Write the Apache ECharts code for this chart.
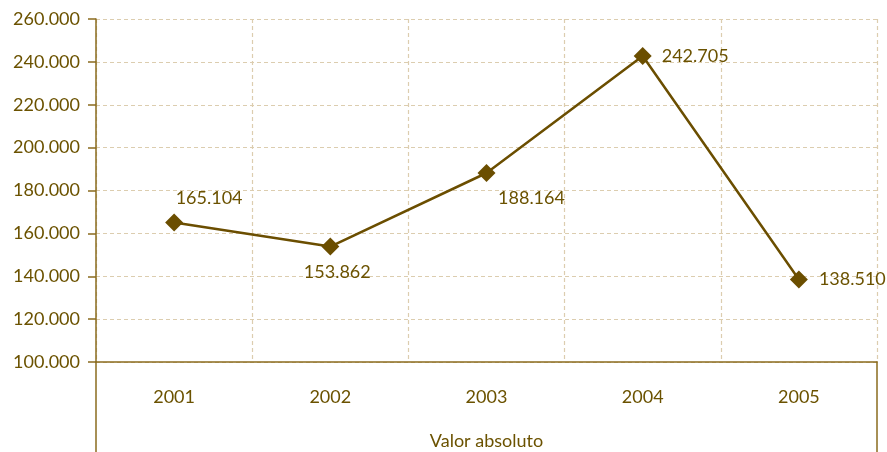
<!DOCTYPE html>
<html>
<head>
<meta charset="utf-8">
<script src="https://cdn.jsdelivr.net/npm/echarts@6/dist/echarts.min.js"></script>
<style>
  html, body { margin: 0; padding: 0; background: #ffffff; }
  #chart { width: 887px; height: 452px; }
</style>
</head>
<body>
<div id="chart"></div>
<script>
// Yearly values
const years = ['2001', '2002', '2003', '2004', '2005'];
const values = [165104, 153862, 188164, 242705, 138510];
const axisTitle = 'Valor absoluto';

// Label placement per point
const labelPlacement = [
  { position: 'top', offset: [35, -1] },
  { position: 'bottom', offset: [7, 3] },
  { position: 'bottom', offset: [45, 2] },
  { position: 'right', offset: [5, 0] },
  { position: 'right', offset: [6, 0] }
];

const textColor = '#6b5200';
const lineColor = '#6b4e00';
const axisColor = '#8a6b1e';
const gridColor = '#dccdaf';
const fontFamily = 'Lato, "Open Sans", sans-serif';

function fmt(v) {
  return String(v).replace(/\B(?=(\d{3})+(?!\d))/g, '.');
}

const chart = echarts.init(document.getElementById('chart'), null, { renderer: 'canvas' });

chart.setOption({
  backgroundColor: '#ffffff',
  animation: false,
  textStyle: { fontFamily: fontFamily },
  grid: [
    { left: 96, right: 10, top: 19, bottom: 90, outerBoundsMode: 'none', containLabel: false },
    { left: 96, right: 10, top: 362, bottom: 0, outerBoundsMode: 'none', containLabel: false }
  ],
  xAxis: [
    {
      gridIndex: 0,
      type: 'category',
      data: years,
      boundaryGap: true,
      axisLine: { show: true, lineStyle: { color: axisColor, width: 1.5 } },
      axisTick: { show: false },
      axisLabel: { color: textColor, fontSize: 18, margin: 26, fontFamily: fontFamily },
      splitLine: { show: true, lineStyle: { color: gridColor, type: [4, 3], width: 1.2 } },
      name: axisTitle,
      nameLocation: 'middle',
      nameGap: 70,
      nameTextStyle: { color: textColor, fontSize: 18, fontFamily: fontFamily }
    },
    {
      gridIndex: 1,
      type: 'category',
      data: years,
      show: false
    }
  ],
  yAxis: [
    {
      gridIndex: 0,
      type: 'value',
      min: 100000,
      max: 260000,
      interval: 20000,
      axisLine: { show: true, lineStyle: { color: axisColor, width: 1.5 } },
      axisTick: { show: true, length: 8, lineStyle: { color: axisColor, width: 1.5 } },
      axisLabel: { color: textColor, fontSize: 18, margin: 16, formatter: fmt, fontFamily: fontFamily },
      splitLine: { show: true, lineStyle: { color: gridColor, type: [4, 3], width: 1.2 } }
    },
    {
      gridIndex: 1,
      type: 'value',
      position: 'left',
      min: 0,
      max: 1,
      axisLine: { show: true, lineStyle: { color: axisColor, width: 1.5 } },
      axisTick: { show: false },
      axisLabel: { show: false },
      splitLine: { show: false }
    },
    {
      gridIndex: 1,
      type: 'value',
      position: 'right',
      min: 0,
      max: 1,
      axisLine: { show: true, lineStyle: { color: axisColor, width: 1.5 } },
      axisTick: { show: false },
      axisLabel: { show: false },
      splitLine: { show: false }
    }
  ],
  series: [
    {
      type: 'line',
      xAxisIndex: 0,
      yAxisIndex: 0,
      data: values.map((v, i) => ({
        value: v,
        label: {
          show: true,
          position: labelPlacement[i].position,
          offset: labelPlacement[i].offset
        }
      })),
      symbol: 'diamond',
      symbolSize: 18,
      lineStyle: { color: lineColor, width: 2.5 },
      itemStyle: { color: lineColor },
      label: {
        show: true,
        color: textColor,
        fontSize: 18,
        fontFamily: fontFamily,
        formatter: p => fmt(p.value)
      }
    }
  ]
});
</script>
</body>
</html>
